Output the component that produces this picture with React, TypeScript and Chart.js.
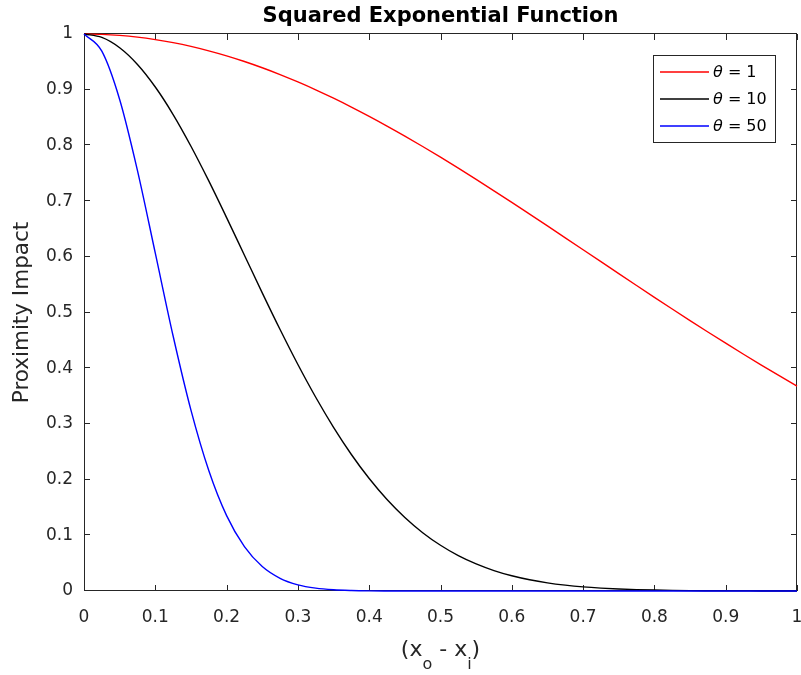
import React, { useEffect, useRef } from 'react';
import { Chart, registerables } from 'chart.js';

Chart.register(...registerables);

// ---- data ----
const xValues = [
  0, 0.025, 0.05, 0.075, 0.1, 0.125, 0.15, 0.175, 0.2, 0.225, 0.25, 0.275, 0.3, 0.325, 0.35, 0.375,
  0.4, 0.425, 0.45, 0.475, 0.5, 0.525, 0.55, 0.575, 0.6, 0.625, 0.65, 0.675, 0.7, 0.725, 0.75, 0.775,
  0.8, 0.825, 0.85, 0.875, 0.9, 0.925, 0.95, 0.975, 1,
];
const thetaValues = ['1', '10', '50'];
const seriesColors = ['#ff0000', '#000000', '#0000ff'];
const theta1 = [
  1, 0.9994, 0.9975, 0.9944, 0.99, 0.9845, 0.9778, 0.9698, 0.9608, 0.9506, 0.9394, 0.9272, 0.9139,
  0.8998, 0.8847, 0.8688, 0.8521, 0.8347, 0.8167, 0.798, 0.7788, 0.7591, 0.739, 0.7185, 0.6977, 0.6766,
  0.6554, 0.634, 0.6126, 0.5912, 0.5698, 0.5485, 0.5273, 0.5063, 0.4855, 0.465, 0.4449, 0.425, 0.4056,
  0.3865, 0.3679,
];
const theta10 = [
  1, 0.9938, 0.9753, 0.9453, 0.9048, 0.8554, 0.7985, 0.7362, 0.6703, 0.6028, 0.5353, 0.4694, 0.4066,
  0.3478, 0.2938, 0.2451, 0.2019, 0.1643, 0.132, 0.1047, 0.0821, 0.0635, 0.0486, 0.0367, 0.0273, 0.0201,
  0.0146, 0.0105, 0.0074, 0.0052, 0.0036, 0.0025, 0.0017, 0.0011, 0.0007, 0.0005, 0.0003, 0.0002, 0.0001,
  0.0001, 0,
];
const theta50 = [
  1, 0.9692, 0.8825, 0.7548, 0.6065, 0.4578, 0.3247, 0.2163, 0.1353, 0.0796, 0.0439, 0.0228, 0.0111,
  0.0051, 0.0022, 0.0009, 0.0003, 0.0001, 0, 0, 0, 0, 0, 0, 0, 0, 0, 0, 0, 0, 0, 0, 0, 0, 0, 0, 0, 0, 0,
  0, 0,
];
const xTicks = [0, 0.1, 0.2, 0.3, 0.4, 0.5, 0.6, 0.7, 0.8, 0.9, 1];
const xTickLabels = ['0', '0.1', '0.2', '0.3', '0.4', '0.5', '0.6', '0.7', '0.8', '0.9', '1'];
const yTicks = [0, 0.1, 0.2, 0.3, 0.4, 0.5, 0.6, 0.7, 0.8, 0.9, 1];
const yTickLabels = ['0', '0.1', '0.2', '0.3', '0.4', '0.5', '0.6', '0.7', '0.8', '0.9', '1'];
const titleText = 'Squared Exponential Function';
const yTitleText = 'Proximity Impact';

const AXIS = '#262626';
const FONT = '"DejaVu Sans", sans-serif';

const framePlugin = {
  id: 'frame',
  beforeDatasetsDraw(chart: any) {
    const { ctx, chartArea: a, scales } = chart;
    const x = scales.x;
    const y = scales.y;
    ctx.save();
    ctx.strokeStyle = AXIS;
    ctx.lineWidth = 1;
    ctx.strokeRect(a.left + 0.5, a.top - 0.5, a.right - a.left - 1, a.bottom - a.top);
    const tl = 6;
    ctx.beginPath();
    xTicks.forEach((v) => {
      const px = Math.round(x.getPixelForValue(v)) + 0.5;
      ctx.moveTo(px, a.bottom);
      ctx.lineTo(px, a.bottom - tl);
      ctx.moveTo(px, a.top);
      ctx.lineTo(px, a.top + tl);
    });
    yTicks.forEach((v) => {
      const py = Math.round(y.getPixelForValue(v)) - 0.5;
      ctx.moveTo(a.left, py);
      ctx.lineTo(a.left + tl, py);
      ctx.moveTo(a.right, py);
      ctx.lineTo(a.right - tl, py);
    });
    ctx.stroke();
    ctx.restore();
  },
  afterDraw(chart: any) {
    const { ctx, chartArea: a } = chart;
    ctx.save();
    // title
    ctx.fillStyle = '#000000';
    ctx.font = `bold 21px ${FONT}`;
    ctx.textAlign = 'center';
    ctx.textBaseline = 'alphabetic';
    ctx.fillText(titleText, (a.left + a.right) / 2, 22);

    // x axis title with subscripts
    const mainFont = `22px ${FONT}`;
    const subFont = `16px ${FONT}`;
    const parts: [string, boolean][] = [
      ['(x', false],
      ['o', true],
      [' - x', false],
      ['i', true],
      [')', false],
    ];
    let total = 0;
    const widths = parts.map(([t, sub]) => {
      ctx.font = sub ? subFont : mainFont;
      const w = ctx.measureText(t).width;
      total += w;
      return w;
    });
    let cx = (a.left + a.right) / 2 - total / 2;
    ctx.fillStyle = AXIS;
    ctx.textAlign = 'left';
    const baseY = 656;
    parts.forEach(([t, sub], i) => {
      ctx.font = sub ? subFont : mainFont;
      ctx.fillText(t, cx, sub ? baseY + 13 : baseY);
      cx += widths[i];
    });

    // legend
    const bx = 653.5;
    const by = 55.5;
    const bw = 122;
    const bh = 87;
    ctx.fillStyle = '#ffffff';
    ctx.fillRect(bx, by, bw, bh);
    ctx.strokeStyle = AXIS;
    ctx.lineWidth = 1;
    ctx.strokeRect(bx, by, bw, bh);
    chart.data.datasets.forEach((ds: any, i: number) => {
      const ly = 72 + i * 27;
      ctx.strokeStyle = ds.borderColor;
      ctx.lineWidth = 1.4;
      ctx.beginPath();
      ctx.moveTo(660, ly);
      ctx.lineTo(709, ly);
      ctx.stroke();
      ctx.fillStyle = '#000000';
      ctx.textBaseline = 'middle';
      ctx.font = `italic 16px ${FONT}`;
      ctx.fillText('θ', 713, ly + 1);
      const tw = ctx.measureText('θ').width;
      ctx.font = `16px ${FONT}`;
      ctx.fillText(' = ' + thetaValues[i], 713 + tw, ly + 1);
    });
    ctx.restore();
  },
};

export default function App() {
  const ref = useRef<HTMLCanvasElement | null>(null);
  useEffect(() => {
    if (!ref.current) return;
    const mk = (vals: number[]) => xValues.map((x, i) => ({ x, y: vals[i] }));
    const chart = new Chart(ref.current, {
      type: 'line',
      data: {
        datasets: [
          { label: 'θ = ' + thetaValues[0], data: mk(theta1), borderColor: seriesColors[0], order: 2 },
          { label: 'θ = ' + thetaValues[1], data: mk(theta10), borderColor: seriesColors[1], order: 1 },
          { label: 'θ = ' + thetaValues[2], data: mk(theta50), borderColor: seriesColors[2], order: 0 },
        ].map((d) => ({
          ...d,
          borderWidth: 1.4,
          pointRadius: 0,
          fill: false,
          cubicInterpolationMode: 'monotone' as const,
          clip: false as any,
        })),
      },
      options: {
        responsive: false,
        animation: false,
        devicePixelRatio: 1,
        layout: { padding: { top: 34, right: 4, left: 0, bottom: 0 } },
        plugins: { legend: { display: false }, tooltip: { enabled: false }, title: { display: false } },
        events: [],
        scales: {
          x: {
            type: 'linear',
            min: 0,
            max: 1,
            grid: { display: false, drawTicks: false },
            border: { display: false },
            afterBuildTicks: (s: any) => {
              s.ticks = xTicks.map((v) => ({ value: v }));
            },
            afterFit: (s: any) => {
              s.height = 84;
              s.paddingLeft = 0;
              s.paddingRight = 0;
            },
            ticks: {
              autoSkip: false,
              maxRotation: 0,
              padding: 16,
              color: AXIS,
              font: { family: FONT, size: 17 },
              callback: (_v: any, i: number) => xTickLabels[i],
            },
          },
          y: {
            type: 'linear',
            min: 0,
            max: 1,
            grid: { display: false, drawTicks: false },
            border: { display: false },
            afterBuildTicks: (s: any) => {
              s.ticks = yTicks.map((v) => ({ value: v }));
            },
            afterFit: (s: any) => {
              s.width = 84;
              s.paddingTop = 0;
              s.paddingBottom = 0;
            },
            title: {
              display: true,
              text: yTitleText,
              color: AXIS,
              font: { family: FONT, size: 21.5 },
              padding: { top: 10, bottom: 0 },
            },
            ticks: {
              autoSkip: false,
              padding: 11,
              color: AXIS,
              font: { family: FONT, size: 17 },
              callback: (_v: any, i: number) => yTickLabels[i],
            },
          },
        },
      } as any,
      plugins: [framePlugin],
    });
    return () => chart.destroy();
  }, []);
  return (
    <div style={{ position: 'absolute', left: 0, top: 0, width: 801, height: 675, background: '#fff' }}>
      <canvas ref={ref} width={801} height={675} style={{ display: 'block' }} />
    </div>
  );
}
